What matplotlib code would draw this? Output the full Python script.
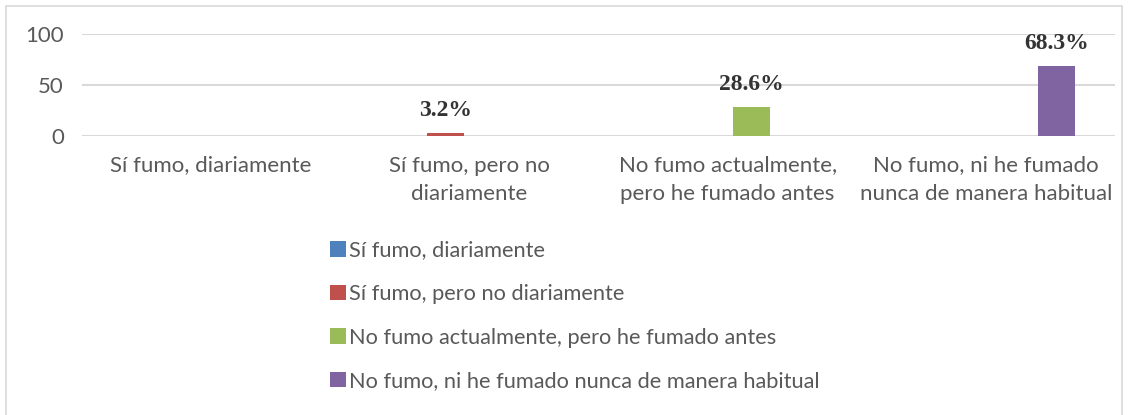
import matplotlib.pyplot as plt
from matplotlib.patches import Patch, Rectangle
import numpy as np

categories = ["Sí fumo, diariamente", "Sí fumo, pero no\ndiariamente",
              "No fumo actualmente,\npero he fumado antes",
              "No fumo, ni he fumado\nnunca de manera habitual"]
series_names = ["Sí fumo, diariamente", "Sí fumo, pero no diariamente",
                "No fumo actualmente, pero he fumado antes",
                "No fumo, ni he fumado nunca de manera habitual"]
values = [0.0, 3.2, 28.6, 68.3]
colors = ["#4F81BD", "#C0504D", "#9BBB59", "#8064A2"]

text_color = "#595959"
font = "Lato"

fig = plt.figure(figsize=(11.28, 4.15), dpi=100)
fig.patches.append(Rectangle((0.005, -0.02), 0.99, 1.005, transform=fig.transFigure,
                             fill=False, edgecolor="#d9d9d9", linewidth=1.2))
ax = fig.add_axes([0.0727, 0.672, 0.9158, 0.246])

x = np.arange(len(categories))
step = 0.182
width = 0.143
n = len(series_names)
for k in range(n):
    # each series only has a value in its own category (Excel clustered layout)
    vals = [values[k] if i == k else 0 for i in range(len(categories))]
    pos = x + (k - (n - 1) / 2) * step
    ax.bar(pos, vals, width=width, color=colors[k], zorder=3)
    if values[k] > 0:
        ax.text(pos[k], values[k] + 12, f"{values[k]}%", ha="center", va="bottom",
                fontsize=17, fontweight="bold", family="Liberation Serif",
                color="#333333", zorder=4)

ax.set_xlim(-0.5, len(categories) - 0.5)
ax.set_ylim(0, 100)
ax.set_yticks([0, 50, 100])
ax.yaxis.grid(True, color="#d9d9d9", linewidth=1.5, zorder=0)
ax.set_axisbelow(True)
for s in ax.spines.values():
    s.set_visible(False)
ax.set_xticks(x)
ax.set_xticklabels(categories, linespacing=1.5)
ax.tick_params(length=0, colors=text_color, labelsize=16, pad=14)
ax.tick_params(axis="y", pad=13)
for lbl in ax.get_xticklabels() + ax.get_yticklabels():
    lbl.set_family(font)

handles = [Patch(facecolor=c, label=l) for c, l in zip(colors, series_names)]
leg = fig.legend(handles=handles, loc="upper left", bbox_to_anchor=(0.275, 0.468),
                 frameon=False, labelspacing=1.08,
                 handlelength=0.72, handleheight=0.72, handletextpad=0.15,
                 prop={"family": font, "size": 15.7})
for t in leg.get_texts():
    t.set_color(text_color)

fig.savefig("out.png", dpi=100)
